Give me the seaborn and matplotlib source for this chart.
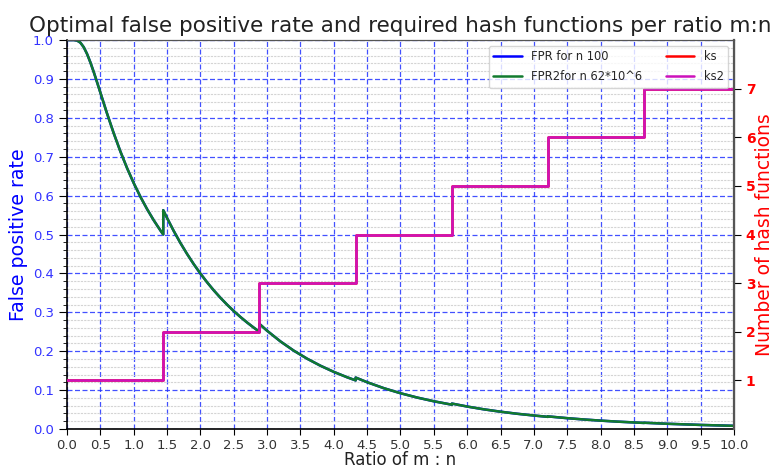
import matplotlib
matplotlib.use("Agg")
import matplotlib.pyplot as plt
import seaborn as sns
from matplotlib.ticker import MultipleLocator, NullLocator

# ---- data ----
ratio = [0.0, 0.1, 0.15, 0.2, 0.25, 0.3, 0.35, 0.4, 0.45, 0.5, 0.6, 0.7, 0.8, 0.9, 1.0,
         1.1, 1.2, 1.3, 1.4, 1.4427,
         1.4427, 1.5, 1.6, 1.7, 1.8, 1.9, 2.0, 2.1, 2.2, 2.3, 2.4, 2.5, 2.6, 2.7, 2.8, 2.8854,
         2.8854, 3.0, 3.2, 3.4, 3.6, 3.8, 4.0, 4.2, 4.3281,
         4.3281, 4.5, 4.75, 5.0, 5.25, 5.5, 5.7708,
         5.7708, 6.0, 6.25, 6.5, 6.75, 7.0, 7.2135,
         7.2135, 7.5, 7.75, 8.0, 8.25, 8.5, 8.6562,
         8.6562, 9.0, 9.5, 10.0]
fpr = [1.0, 1.0, 0.9987, 0.9933, 0.9817, 0.9643, 0.9426, 0.9179, 0.8916, 0.8647, 0.8111,
       0.7604, 0.7135, 0.6708, 0.6321, 0.5971, 0.5654, 0.5366, 0.5105, 0.5,
       0.5625, 0.5423, 0.5091, 0.4783, 0.4500, 0.4238, 0.3996, 0.3772, 0.3565, 0.3374,
       0.3197, 0.3032, 0.2880, 0.2738, 0.2606, 0.25,
       0.2702, 0.2526, 0.2252, 0.2014, 0.1808, 0.1627, 0.1469, 0.1330, 0.125,
       0.1323, 0.1203, 0.1050, 0.0920, 0.0809, 0.0713, 0.0625,
       0.0654, 0.0578, 0.0506, 0.0445, 0.0392, 0.0347, 0.03125,
       0.0324, 0.0279, 0.0245, 0.0216, 0.0190, 0.0169, 0.0156,
       0.0161, 0.0135, 0.0105, 0.0082]
fpr2 = list(fpr)

k_ratio = [0.0, 1.4427, 2.8854, 4.3281, 5.7708, 7.2135, 8.6562, 10.0]
ks = [1, 2, 3, 4, 5, 6, 7, 7]
ks2 = list(ks)

x_ticks = [i * 0.5 for i in range(21)]
right_ticks = [1, 2, 3, 4, 5, 6, 7]

# ---- plot ----
sns.set_style("white")
plt.rcParams['font.family'] = ['DejaVu Sans']

fig = plt.figure(figsize=(7.75, 4.68), dpi=100)
ax = fig.add_axes([0.0865, 0.0833, 0.8605, 0.8312])
ax2 = ax.twinx()

sns.lineplot(x=ratio, y=fpr, ax=ax, color='b', lw=1.8, label='FPR for n 100',
             estimator=None, sort=False)
sns.lineplot(x=ratio, y=fpr2, ax=ax, color='#117a2e', lw=1.8, label='FPR2for n 62*10^6',
             estimator=None, sort=False)
sns.lineplot(x=k_ratio, y=ks, ax=ax2, color='r', lw=1.8, label='ks',
             estimator=None, sort=False, drawstyle='steps-post')
sns.lineplot(x=k_ratio, y=ks2, ax=ax2, color='#cc11bb', lw=1.8, label='ks2',
             estimator=None, sort=False, drawstyle='steps-post')

ax.set_xlim(0, 10)
ax.set_ylim(0, 1)
ax2.set_ylim(0, 8)
ax.set_xticks(x_ticks)
ax.xaxis.set_minor_locator(NullLocator())
ax2.xaxis.set_minor_locator(NullLocator())
ax.yaxis.set_major_locator(MultipleLocator(0.1))
ax.yaxis.set_minor_locator(MultipleLocator(0.02))
ax2.set_yticks(right_ticks)
ax2.yaxis.set_minor_locator(NullLocator())
ax2.grid(False)

ax.grid(which='major', color='#2233ff', linestyle=(0, (4, 2)), lw=0.9, alpha=0.85)
ax.grid(which='minor', axis='y', color='#d4d4d4', linestyle=(0, (2, 1)), lw=0.8)
ax.set_axisbelow(True)

ax.tick_params(axis='x', which='major', labelsize=9.5, labelcolor='#333333',
               direction='out', length=4, color='black', bottom=True)
ax.tick_params(axis='x', which='minor', bottom=False)
ax.tick_params(axis='y', which='major', labelsize=9.5, labelcolor='#3333ff',
               direction='out', length=6, color='black', left=True)
ax.tick_params(axis='y', which='minor', direction='out', length=3, color='black', left=True)
ax2.tick_params(axis='y', which='major', labelsize=10, labelcolor='red',
                direction='out', length=5, color='black', right=True)
for lbl in ax2.get_yticklabels():
    lbl.set_fontweight('bold')

for sp in ['left', 'bottom']:
    ax.spines[sp].set_color('black')
    ax.spines[sp].set_linewidth(1.2)
for sp in ['top', 'right']:
    ax2.spines[sp].set_color('#555555')
ax2.spines['right'].set_linewidth(1.6)
ax2.spines['left'].set_visible(False)
ax2.spines['bottom'].set_visible(False)

ax.set_xlabel('Ratio of m : n', fontsize=12, color='#222222', labelpad=-1)
ax.set_ylabel('False positive rate', fontsize=13.7, color='b', labelpad=3.5)
ax2.set_ylabel('Number of hash functions', fontsize=13.5, color='red', labelpad=0)
ax.set_title('Optimal false positive rate and required hash functions per ratio m:n',
             fontsize=15.5, color='#222222', pad=6)

h1, l1 = ax.get_legend_handles_labels()
h2, l2 = ax2.get_legend_handles_labels()
if ax.get_legend():
    ax.get_legend().remove()
ax2.legend(h1 + h2, l1 + l2, loc='upper right', ncol=2, fontsize=8.3,
           frameon=True, framealpha=0.8, edgecolor='#cccccc', columnspacing=2.0,
           handlelength=2.5, labelspacing=0.6)

fig.savefig('out.png', dpi=100)
